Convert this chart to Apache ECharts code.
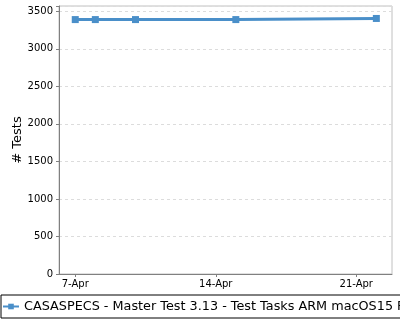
<!DOCTYPE html>
<html>
<head>
<meta charset="utf-8">
<script src="https://cdn.jsdelivr.net/npm/echarts@6/dist/echarts.min.js"></script>
<style>
html,body{margin:0;padding:0;background:#fff;}
#chart{width:400px;height:320px;}
</style>
</head>
<body>
<div id="chart"></div>
<script>
// Data (day of April)
const days = [7, 8, 10, 15, 22];
const tests = [3390, 3390, 3390, 3390, 3405];
const tickDays = [7, 14, 21];
const seriesName = 'CASASPECS - Master Test 3.13 - Test Tasks ARM macOS15 Py3.12';
const yTitle = '# Tests';

const chart = echarts.init(document.getElementById('chart'));
const font = 'DejaVu Sans';
chart.setOption({
  animation: false,
  backgroundColor: '#ffffff',
  grid: { left: 59, right: 8, top: 6, bottom: 46, show: true, borderColor: '#c0c0c0', borderWidth: 1,
          containLabel: false, outerBoundsMode: 'none' },
  legend: {
    left: 1, top: 295,
    data: [seriesName],
    borderColor: '#000', borderWidth: 1, borderRadius: 0,
    padding: [5, 4, 5, 1],
    itemWidth: 16, itemHeight: 7, itemGap: 4,
    textStyle: { fontFamily: font, fontSize: 12.8, color: '#000' }
  },
  xAxis: {
    type: 'value',
    min: 6.19, max: 22.78,
    splitLine: { show: false },
    axisLine: { lineStyle: { color: '#808080' } },
    axisTick: { show: true, customValues: tickDays, length: 3, lineStyle: { color: '#808080' } },
    axisLabel: { customValues: tickDays, formatter: v => Math.round(v) + '-Apr', fontFamily: font, fontSize: 10, color: '#000', margin: 5 }
  },
  yAxis: {
    type: 'value',
    min: 0, max: 3571, interval: 500,
    name: yTitle, nameLocation: 'middle', nameGap: 35, nameRotate: 90, nameMoveOverlap: false,
    nameTextStyle: { fontFamily: font, fontSize: 13, color: '#000' },
    axisLine: { show: true, lineStyle: { color: '#808080' } },
    axisTick: { show: true, length: 3, lineStyle: { color: '#808080' } },
    axisLabel: { fontFamily: font, fontSize: 10, color: '#000', margin: 6,
      formatter: v => (v % 500 === 0 ? String(v) : '') },
    splitLine: { show: true, lineStyle: { color: '#dcdcdc', type: [3, 3], width: 1 } }
  },
  series: [{
    name: seriesName,
    type: 'line',
    data: days.map((d, i) => [d, tests[i]]),
    symbol: 'rect', symbolSize: 7,
    lineStyle: { color: '#4a8fc9', width: 3 },
    itemStyle: { color: '#4a8fc9' }
  }]
});
</script>
</body>
</html>
